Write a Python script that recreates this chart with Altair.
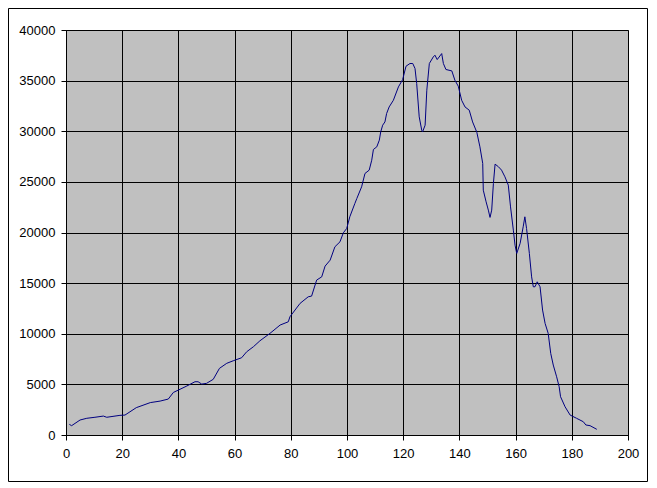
import altair as alt
import pandas as pd

xs = [1.2, 2.0, 5.0, 7.4, 10.3, 13.3, 14.5, 19.2, 21.0, 25.0, 30.0, 33.5, 36.4, 38.2, 43.0,
      45.9, 47.0, 48.3, 50.0, 52.4, 54.6, 57.2, 59.5, 62.5, 64.3, 66.7, 69.0, 72.6, 76.2,
      79.1, 79.7, 83.3, 86.2, 87.4, 89.2, 91.0, 92.2, 94.0, 95.7, 97.5, 98.7, 99.9, 101.0,
      102.8, 103.5, 105.2, 106.4, 107.9, 108.8, 109.4, 110.6, 111.5, 112.0, 112.7, 113.5,
      114.1, 115.0, 116.5, 118.3, 119.8,
      121.0, 122.4, 123.4, 124.2, 124.8, 125.7, 126.6, 126.9, 127.8, 128.4, 129.3, 130.7,
      131.3, 132.1, 133.7, 134.3, 135.2, 137.3, 138.4, 139.6, 140.8, 142.0, 143.5, 144.7,
      146.2, 147.3, 148.3, 148.5, 149.5, 150.3, 150.9, 151.5, 152.1, 152.7, 153.9, 155.0,
      156.2, 157.4, 158.2, 159.2, 159.8, 160.4, 161.6, 162.7, 163.3, 163.9, 164.9, 165.7,
      166.3, 166.9, 167.7, 168.7, 169.6, 170.5, 171.6, 172.5, 173.4, 174.6, 175.5, 176.0,
      177.6, 179.4, 181.7, 184.1, 185.0, 186.5, 188.9]
ys = [1050, 920, 1480, 1650, 1750, 1870, 1750, 1940, 1970, 2700, 3200, 3350, 3550, 4200, 4840,
      5260, 5260, 5030, 5100, 5500, 6580, 7080, 7330, 7630, 8220, 8720, 9300, 10040, 10860,
      11180, 11680, 13000, 13650, 13720, 15300, 15620, 16680, 17270, 18590, 19080, 19970, 20400, 21550,
      22870, 23360, 24510, 25830, 26160, 27140, 28200, 28460, 29120, 29940, 30600, 30920,
      31750, 32400, 33060, 34380, 35100,
      36420, 36690, 36690, 36200, 34710, 31420, 30100, 29940, 30600, 34050, 36690, 37340,
      37510, 37080, 37670, 36690, 36100, 35960, 35040, 34450, 33060, 32400, 32080, 30920,
      29900, 28460, 26820, 24180, 23030, 22210, 21490, 22210, 24840, 26750, 26490, 26160,
      25500, 24680, 22530, 20230, 18750, 17930, 18920, 20560, 21550, 20400, 17930, 15620,
      14640, 14640, 15130, 14640, 12340, 11020, 10040, 8060, 6910, 5750, 4770, 3780,
      2790, 1970, 1650, 1310, 990, 920, 560]

x_ticks = list(range(0, 201, 20))
y_ticks = list(range(0, 40001, 5000))

df = pd.DataFrame({"x": xs, "y": ys})

W, H = 562, 405
PL, PT, PR, PB = 58, 22, 20, 47

line = alt.Chart(df).mark_line(color="#000080", strokeWidth=1, clip=True).encode(
    x=alt.X("x:Q", scale=alt.Scale(domain=[0, 200], nice=False),
            axis=alt.Axis(values=x_ticks, title=None, grid=True, format="d",
                          labelFlush=False, labelOverlap=False)),
    y=alt.Y("y:Q", scale=alt.Scale(domain=[0, 40000], nice=False),
            axis=alt.Axis(values=y_ticks, title=None, grid=True, format="d",
                          labelFlush=False, labelOverlap=False)),
)

border = alt.Chart(pd.DataFrame({"a": [0]})).mark_rect(
    fill="transparent", stroke="black", strokeWidth=1, clip=False
).encode(
    x=alt.value(-PL + 0.5), x2=alt.value(W + PR - 0.5),
    y=alt.value(-PT + 0.5), y2=alt.value(H + PB - 0.5),
)

chart = alt.layer(line, border).properties(
    width=W, height=H,
    autosize=alt.AutoSizeParams(type="none"),
    padding={"left": PL, "top": PT, "right": PR, "bottom": PB},
    background="white",
).configure_view(
    fill="#C0C0C0", stroke="#808080", strokeWidth=1
).configure_axis(
    gridColor="black", gridWidth=1, gridOpacity=1,
    domainColor="black", domainWidth=1,
    tickColor="black", tickSize=5, tickWidth=1,
    labelFont="Liberation Sans", labelFontSize=13, labelColor="black",
    labelPadding=4,
).configure_axisY(labelPadding=6).configure_axisX(labelPadding=7)

chart.save("out.html", embed_options={"renderer": "svg", "actions": False})
